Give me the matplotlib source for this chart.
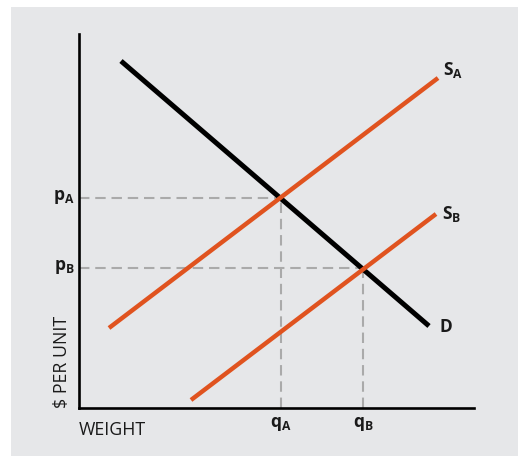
import matplotlib.pyplot as plt
from matplotlib.patches import Rectangle

# Line endpoints (quantity, price)
demand_q = [42, 350]
demand_p = [347, 82]
supply_a_q = [30, 359]
supply_a_p = [80, 330]
supply_b_q = [112, 357]
supply_b_p = [8, 194]

# Equilibrium points (A and B)
eq_q = [202, 284]
eq_p = [210, 140]
eq_names = ['A', 'B']

plt.rcParams['font.family'] = ['Open Sans', 'DejaVu Sans']
plt.rcParams['mathtext.fontset'] = 'custom'
plt.rcParams['mathtext.rm'] = 'Open Sans'
plt.rcParams['mathtext.bf'] = 'Open Sans:bold'

W, H = 518, 457
fig = plt.figure(figsize=(W / 100, H / 100), dpi=100)
# grey panel behind the chart
bg = fig.add_axes([11 / W, 1 / H, 1 - 11 / W, 449 / H], zorder=-1)
bg.axis('off')
bg.add_patch(Rectangle((0, 0), 1, 1, transform=bg.transAxes,
                       facecolor='#e6e7e9', edgecolor='none'))

ax = fig.add_axes([79 / W, (H - 408) / H, 395 / W, 374 / H])
ax.set_facecolor('none')
ax.set_xlim(0, 395)
ax.set_ylim(0, 374)
for side in ['top', 'right']:
    ax.spines[side].set_visible(False)
for side in ['left', 'bottom']:
    ax.spines[side].set_linewidth(1.9)
    ax.spines[side].set_color('black')
ax.set_xticks([])
ax.set_yticks([])

orange = '#e0531f'
grey = '#aaaaaa'
ink = '#1a1a1a'

# dashed guide lines
for q, p in zip(eq_q, eq_p):
    ax.plot([0, q], [p, p], color=grey, lw=1.5, dashes=(5, 2.8), zorder=1)
    ax.plot([q, q], [0, p], color=grey, lw=1.5, dashes=(5, 2.8), zorder=1)

ax.plot(demand_q, demand_p, color='black', lw=3.6, solid_capstyle='butt', zorder=3)
ax.plot(supply_a_q, supply_a_p, color=orange, lw=3.2, solid_capstyle='butt', zorder=4)
ax.plot(supply_b_q, supply_b_p, color=orange, lw=3.2, solid_capstyle='butt', zorder=4)

fs = 12.5
ax.text(supply_a_q[1] + 5, supply_a_p[1] + 8, r'$\mathbf{S_A}$', fontsize=fs,
        va='center', color=ink)
ax.text(supply_b_q[1] + 6, supply_b_p[1] + 0, r'$\mathbf{S_B}$', fontsize=fs,
        va='center', color=ink)
ax.text(demand_q[1] + 10, demand_p[1] - 2, r'$\mathbf{D}$', fontsize=fs,
        va='center', color=ink)

for q, p, n in zip(eq_q, eq_p, eq_names):
    ax.text(-4, p + 1, r'$\mathbf{p_%s}$' % n, fontsize=fs, ha='right',
            va='center', color=ink)
    ax.text(q, -16, r'$\mathbf{q_%s}$' % n, fontsize=fs, ha='center',
            va='center', color=ink)

ax.text(-17, 0, '$ PER UNIT', rotation=90, fontsize=12.8, ha='center',
        va='bottom', color=ink)
ax.text(0, -22, 'WEIGHT', fontsize=12.8, ha='left', va='center', color=ink)

fig.savefig('out.png', dpi=100)
